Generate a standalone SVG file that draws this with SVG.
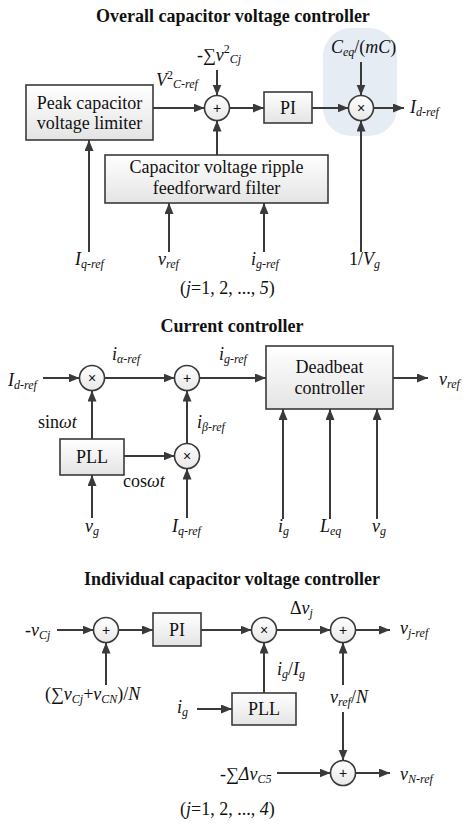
<svg xmlns="http://www.w3.org/2000/svg" width="474" height="828" viewBox="0 0 474 828">
<defs>
<linearGradient id="boxg" x1="0" y1="0" x2="0" y2="1"><stop offset="0" stop-color="#ffffff"/><stop offset="1" stop-color="#e4e4e4"/></linearGradient>
<linearGradient id="cg" x1="0" y1="0" x2="0" y2="1"><stop offset="0" stop-color="#ffffff"/><stop offset="1" stop-color="#e8e8e8"/></linearGradient>
<marker id="ah" markerUnits="userSpaceOnUse" markerWidth="12" markerHeight="10" refX="11" refY="4.5" orient="auto"><path d="M0,0 L11,4.5 L0,9 z" fill="#3a3a3a"/></marker>
<style>
.box{fill:url(#boxg);stroke:#3a3a3a;stroke-width:1.6}
.cir{fill:url(#cg);stroke:#3a3a3a;stroke-width:1.6}
.w{stroke:#3a3a3a;stroke-width:2;fill:none;marker-end:url(#ah)}
text{font-family:"Liberation Serif","Times New Roman","DejaVu Serif",serif;fill:#111}
.t{font-size:18px;font-weight:bold;text-anchor:middle}
.bx{font-size:18px;text-anchor:middle}
.v{font-size:18px;font-style:italic}
.s{font-size:12px}
.up{font-style:normal}
.op{font-family:"Liberation Sans",Arial,sans-serif;font-size:14px;text-anchor:middle}
</style>
</defs>

<!-- Section 1 -->
<text class="t" x="233" y="22">Overall capacitor voltage controller</text>
<rect id="shade" x="323" y="28" width="74" height="108" rx="28" fill="#e6ecf4"/>

<g id="limiter"><rect class="box" x="26" y="85" width="127" height="55"/><text class="bx" x="89.5" y="109">Peak capacitor</text><text class="bx" x="89.5" y="129">voltage limiter</text></g>
<g id="sum1"><circle class="cir" cx="217" cy="108" r="12.5"/><text class="op" x="217" y="113">+</text></g>
<g id="pi1"><rect class="box" x="264" y="92" width="48" height="31"/><text class="bx" x="288" y="114">PI</text></g>
<g id="mul1"><circle class="cir" cx="361" cy="108" r="12.5"/><text class="op" x="361" y="113">×</text></g>
<g id="ripple"><rect class="box" x="105" y="155" width="223" height="48"/><text class="bx" x="216.5" y="173">Capacitor voltage ripple</text><text class="bx" x="216.5" y="194">feedforward filter</text></g>

<g id="conn1">
<line class="w" x1="153" y1="108" x2="204.5" y2="108"/>
<line class="w" x1="217" y1="70" x2="217" y2="95.5"/>
<line class="w" x1="217" y1="155" x2="217" y2="120.5"/>
<line class="w" x1="229.5" y1="108" x2="264" y2="108"/>
<line class="w" x1="312" y1="108" x2="348.5" y2="108"/>
<line class="w" x1="361" y1="62" x2="361" y2="95.5"/>
<line class="w" x1="361" y1="252" x2="361" y2="120.5"/>
<line class="w" x1="373.5" y1="108" x2="404" y2="108"/>
<line class="w" x1="89" y1="252" x2="89" y2="140"/>
<line class="w" x1="169" y1="252" x2="169" y2="203"/>
<line class="w" x1="264" y1="252" x2="264" y2="203"/>
</g>

<text class="v" x="197" y="61"><tspan class="up">-∑</tspan>v<tspan class="s up" dy="-8">2</tspan><tspan class="s" dy="10">Cj</tspan></text>
<text class="v" x="156" y="86">V<tspan class="s up" dy="-7">2</tspan><tspan class="s" dy="9">C-ref</tspan></text>
<text class="v" x="331" y="53">C<tspan class="s" dy="3">eq</tspan><tspan class="up" dy="-3">/(</tspan>mC<tspan class="up">)</tspan></text>
<text class="v" x="410" y="113">I<tspan class="s" dy="3">d-ref</tspan></text>
<text class="v" x="75" y="265">I<tspan class="s" dy="3">q-ref</tspan></text>
<text class="v" x="158" y="265">v<tspan class="s" dy="3">ref</tspan></text>
<text class="v" x="251" y="265">i<tspan class="s" dy="3">g-ref</tspan></text>
<text class="v" x="349" y="265"><tspan class="up">1/</tspan>V<tspan class="s" dy="3">g</tspan></text>
<text class="v" x="180" y="294"><tspan class="up">(</tspan>j<tspan class="up">=1, 2, ..., </tspan>5<tspan class="up">)</tspan></text>

<!-- Section 2 -->
<text class="t" x="232" y="332">Current controller</text>
<g id="mul2"><circle class="cir" cx="92" cy="378" r="12.5"/><text class="op" x="92" y="383">×</text></g>
<g id="sum2"><circle class="cir" cx="187" cy="378" r="12.5"/><text class="op" x="187" y="383">+</text></g>
<g id="deadbeat"><rect class="box" x="266" y="346" width="127" height="63"/><text class="bx" x="329.5" y="373">Deadbeat</text><text class="bx" x="329.5" y="394">controller</text></g>
<g id="pll1"><rect class="box" x="60" y="439" width="64" height="36"/><text class="bx" x="92" y="463">PLL</text></g>
<g id="mul3"><circle class="cir" cx="187" cy="456" r="12.5"/><text class="op" x="187" y="461">×</text></g>

<g id="conn2">
<line class="w" x1="43" y1="378" x2="79.5" y2="378"/>
<line class="w" x1="104.5" y1="378" x2="174.5" y2="378"/>
<line class="w" x1="199.5" y1="378" x2="266" y2="378"/>
<line class="w" x1="393" y1="378" x2="428" y2="378"/>
<line class="w" x1="92" y1="439" x2="92" y2="390.5"/>
<line class="w" x1="124" y1="456" x2="174.5" y2="456"/>
<line class="w" x1="187" y1="443.5" x2="187" y2="390.5"/>
<line class="w" x1="92" y1="518" x2="92" y2="475"/>
<line class="w" x1="187" y1="518" x2="187" y2="468.5"/>
<line class="w" x1="283" y1="519" x2="283" y2="409"/>
<line class="w" x1="330" y1="519" x2="330" y2="409"/>
<line class="w" x1="377" y1="519" x2="377" y2="409"/>
</g>

<text class="v" x="8" y="386">I<tspan class="s" dy="3">d-ref</tspan></text>
<text class="v" x="112" y="360">i<tspan class="s" dy="3">α-ref</tspan></text>
<text class="v" x="219" y="360">i<tspan class="s" dy="3">g-ref</tspan></text>
<text class="v" x="439" y="385">v<tspan class="s" dy="3">ref</tspan></text>
<text class="v" x="38" y="428"><tspan class="up">sin</tspan>ωt</text>
<text class="v" x="197" y="428">i<tspan class="s" dy="3">β-ref</tspan></text>
<text class="v" x="123" y="487"><tspan class="up">cos</tspan>ωt</text>
<text class="v" x="85" y="532">v<tspan class="s" dy="3">g</tspan></text>
<text class="v" x="172" y="532">I<tspan class="s" dy="3">q-ref</tspan></text>
<text class="v" x="278" y="532">i<tspan class="s" dy="3">g</tspan></text>
<text class="v" x="320" y="532">L<tspan class="s" dy="3">eq</tspan></text>
<text class="v" x="372" y="532">v<tspan class="s" dy="3">g</tspan></text>

<!-- Section 3 -->
<text class="t" x="232" y="585">Individual capacitor voltage controller</text>
<g id="sum3"><circle class="cir" cx="106" cy="630" r="12.5"/><text class="op" x="106" y="635">+</text></g>
<g id="pi2"><rect class="box" x="153" y="613" width="48" height="33"/><text class="bx" x="177" y="636">PI</text></g>
<g id="mul4"><circle class="cir" cx="264" cy="630" r="12.5"/><text class="op" x="264" y="635">×</text></g>
<g id="sum4"><circle class="cir" cx="343" cy="630" r="12.5"/><text class="op" x="343" y="635">+</text></g>
<g id="pll2"><rect class="box" x="232" y="693" width="64" height="32"/><text class="bx" x="264" y="715">PLL</text></g>
<g id="sum5"><circle class="cir" cx="343" cy="773" r="12.5"/><text class="op" x="343" y="778">+</text></g>

<g id="conn3">
<line class="w" x1="57" y1="630" x2="93.5" y2="630"/>
<line class="w" x1="106" y1="685" x2="106" y2="642.5"/>
<line class="w" x1="118.5" y1="630" x2="153" y2="630"/>
<line class="w" x1="201" y1="630" x2="251.5" y2="630"/>
<line class="w" x1="276.5" y1="630" x2="330.5" y2="630"/>
<line class="w" x1="355.5" y1="630" x2="390" y2="630"/>
<line class="w" x1="264" y1="693" x2="264" y2="642.5"/>
<line class="w" x1="197" y1="709" x2="232" y2="709"/>
<line class="w" x1="343" y1="685" x2="343" y2="642.5"/>
<line class="w" x1="343" y1="712" x2="343" y2="760.5"/>
<line class="w" x1="277" y1="773" x2="330.5" y2="773"/>
<line class="w" x1="355.5" y1="773" x2="390" y2="773"/>
</g>

<text class="v" x="25" y="636"><tspan class="up">-</tspan>v<tspan class="s" dy="3">Cj</tspan></text>
<text class="v" x="45" y="700"><tspan class="up">(∑</tspan>v<tspan class="s" dy="3">Cj</tspan><tspan class="up" dy="-3">+</tspan>v<tspan class="s" dy="3">CN</tspan><tspan class="up" dy="-3">)/</tspan>N</text>
<text class="v" x="290" y="614"><tspan class="up">Δ</tspan>v<tspan class="s" dy="3">j</tspan></text>
<text class="v" x="400" y="634">v<tspan class="s" dy="3">j-ref</tspan></text>
<text class="v" x="277" y="675">i<tspan class="s" dy="3">g</tspan><tspan class="up" dy="-3">/</tspan>I<tspan class="s" dy="3">g</tspan></text>
<text class="v" x="177" y="713">i<tspan class="s" dy="3">g</tspan></text>
<text class="v" x="330" y="703">v<tspan class="s" dy="3">ref</tspan><tspan class="up" dy="-3">/</tspan>N</text>
<text class="v" x="220" y="780"><tspan class="up">-∑</tspan>Δv<tspan class="s" dy="3">C5</tspan></text>
<text class="v" x="400" y="780">v<tspan class="s" dy="3">N-ref</tspan></text>
<text class="v" x="180" y="815"><tspan class="up">(</tspan>j<tspan class="up">=1, 2, ..., </tspan>4<tspan class="up">)</tspan></text>
</svg>
